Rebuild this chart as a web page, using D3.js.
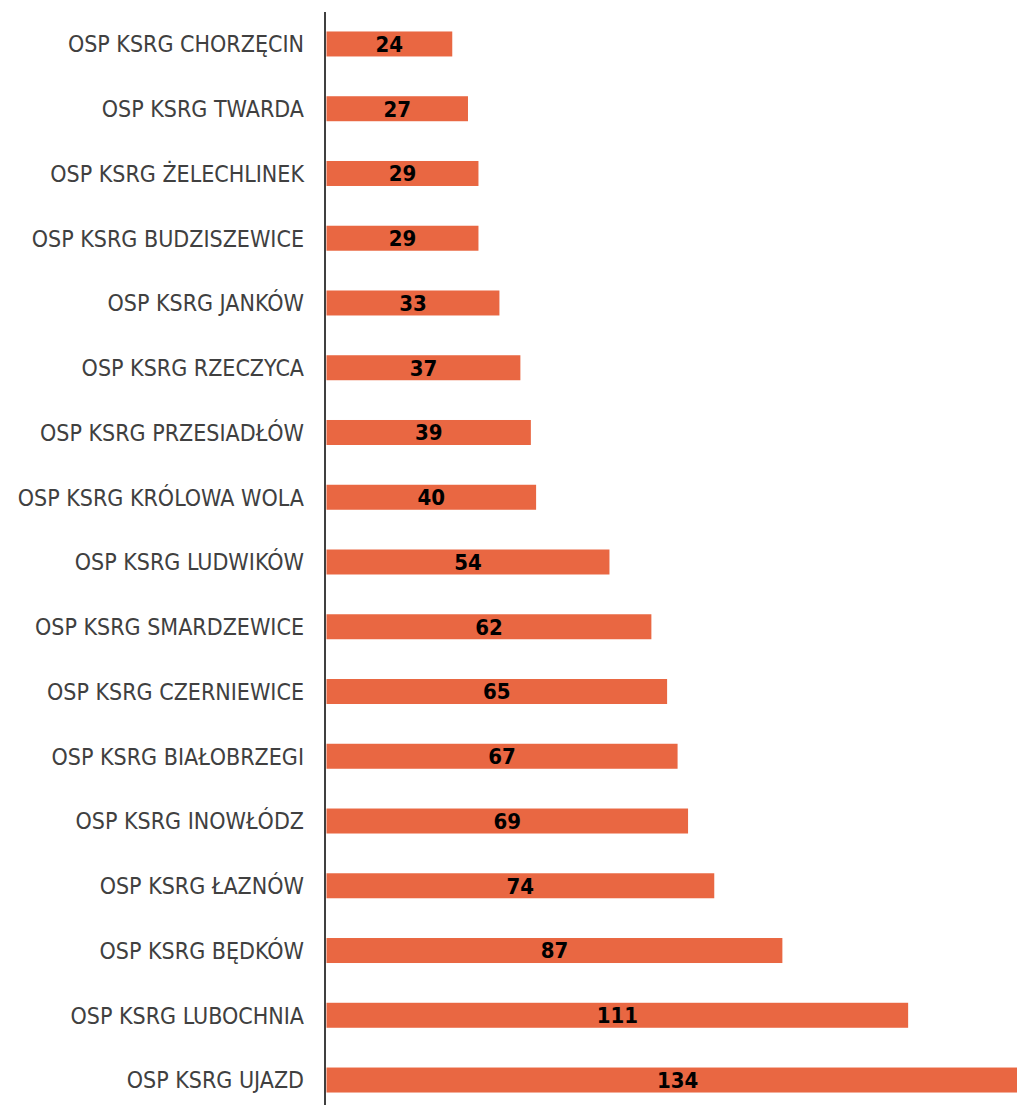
<!DOCTYPE html>
<html><head><meta charset="utf-8">
<script src="https://cdn.jsdelivr.net/npm/d3@7"></script>
<style>body{margin:0;background:#fff}svg{display:block}</style>
</head><body>
<svg id="c" width="1017" height="1105"></svg>
<script>
const categories = ["OSP KSRG CHORZĘCIN","OSP KSRG TWARDA","OSP KSRG ŻELECHLINEK","OSP KSRG BUDZISZEWICE","OSP KSRG JANKÓW","OSP KSRG RZECZYCA","OSP KSRG PRZESIADŁÓW","OSP KSRG KRÓLOWA WOLA","OSP KSRG LUDWIKÓW","OSP KSRG SMARDZEWICE","OSP KSRG CZERNIEWICE","OSP KSRG BIAŁOBRZEGI","OSP KSRG INOWŁÓDZ","OSP KSRG ŁAZNÓW","OSP KSRG BĘDKÓW","OSP KSRG LUBOCHNIA","OSP KSRG UJAZD"];
const values = [24,27,29,29,33,37,39,40,54,62,65,67,69,74,87,111,134];

const svg = d3.select("#c");
const x0 = 326.5;
const x = d3.scaleLinear().domain([0, 134]).range([x0, x0 + 134*5.24]);
const y = d3.scaleBand().domain(categories).range([11.6, 1112.4]).paddingInner(0.614).paddingOuter(0.307);

const font = "'DejaVu Sans Condensed','DejaVu Sans',sans-serif";

svg.selectAll("rect.bar").data(values).join("rect")
  .attr("class","bar")
  .attr("x", x(0))
  .attr("y", (d,i)=>y(categories[i]))
  .attr("width", d=>x(d)-x(0))
  .attr("height", y.bandwidth())
  .attr("fill", "#E96742");

svg.selectAll("text.cat").data(categories).join("text")
  .attr("class","cat")
  .attr("x", 304)
  .attr("y", d=>y(d)+y.bandwidth()/2)
  .attr("dy","0.36em")
  .attr("text-anchor","end")
  .attr("font-family", font)
  .attr("font-size", 23)
  .attr("fill","#404040")
  .text(d=>d);

svg.selectAll("text.val").data(values).join("text")
  .attr("class","val")
  .attr("x", d=>(x(0)+x(d))/2)
  .attr("y", (d,i)=>y(categories[i])+y.bandwidth()/2)
  .attr("dy","0.36em")
  .attr("text-anchor","middle")
  .attr("font-family", font)
  .attr("font-weight","bold")
  .attr("font-size", 22)
  .attr("fill","#000")
  .text(d=>d);

svg.append("line")
  .attr("x1",325).attr("x2",325)
  .attr("y1",12).attr("y2",1105)
  .attr("stroke","#404040").attr("stroke-width",2);
</script>
</body></html>
